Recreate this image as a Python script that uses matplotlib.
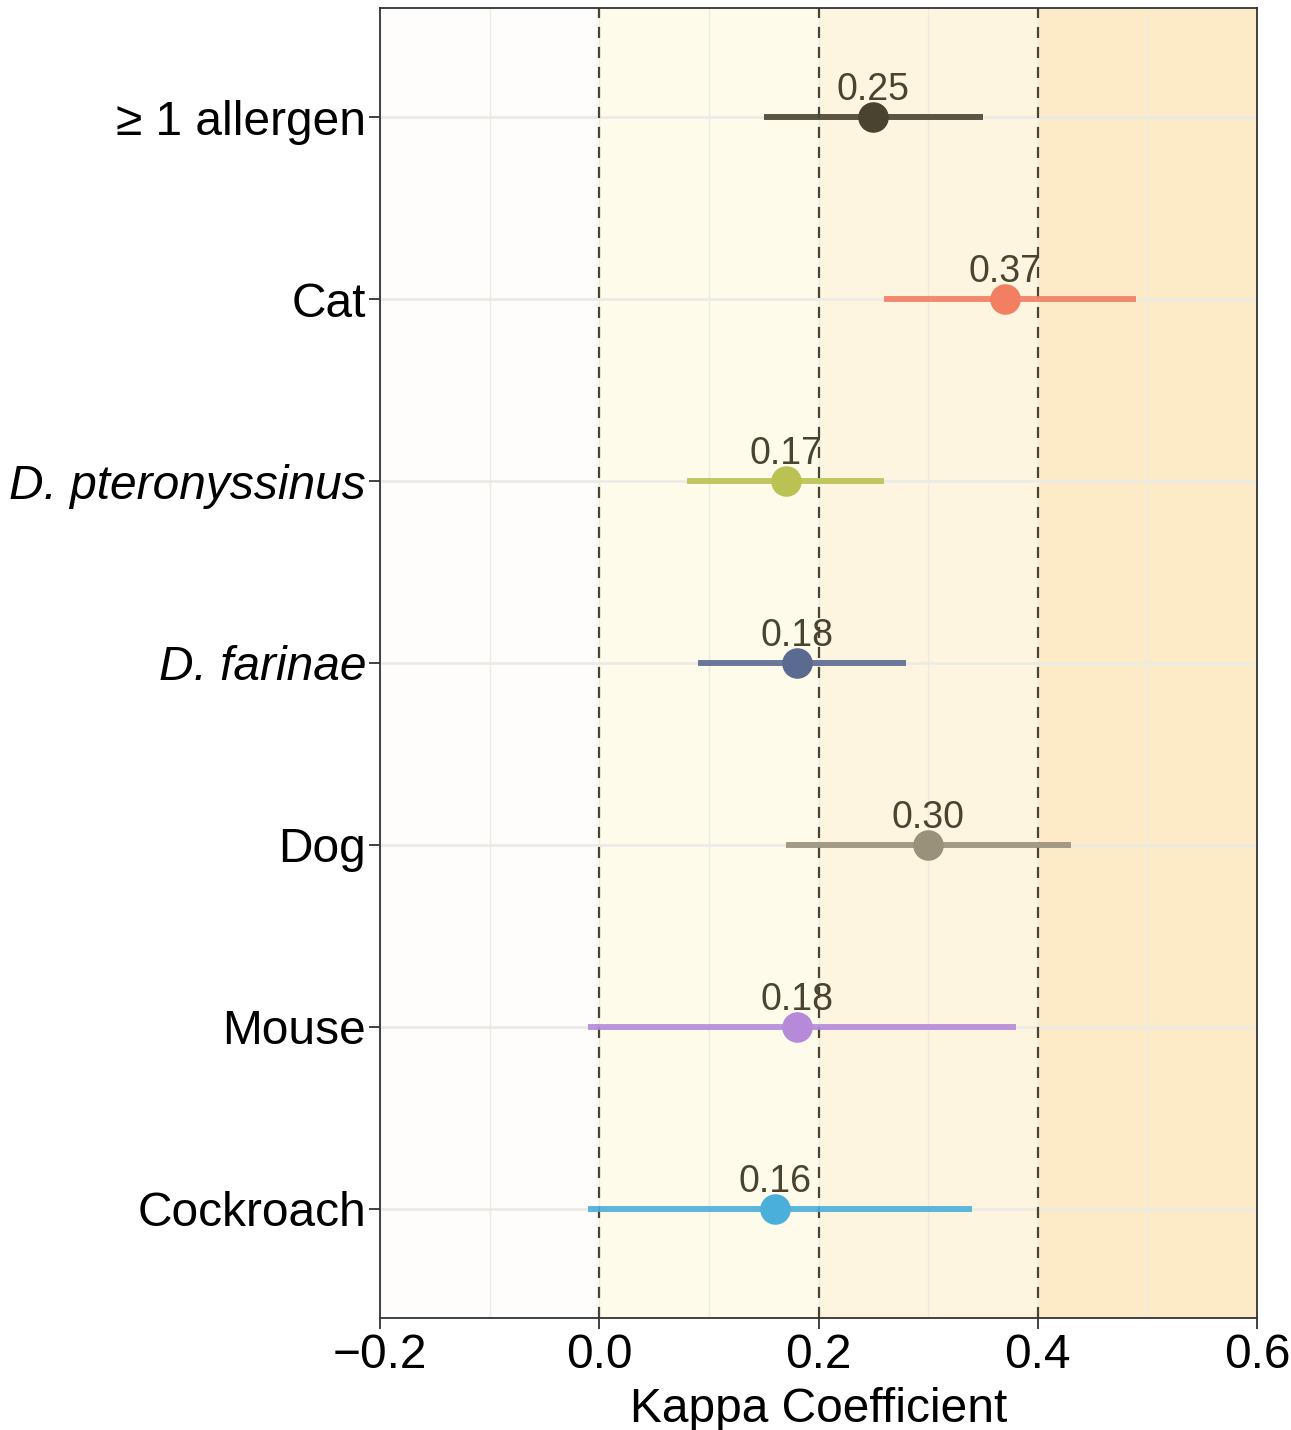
import matplotlib
matplotlib.use("Agg")
import matplotlib.pyplot as plt
import numpy as np

plt.rcParams["font.family"] = ["Liberation Sans", "DejaVu Sans"]

# data, top to bottom
labels = ["\u2265 1 allergen", "Cat", "D. pteronyssinus", "D. farinae", "Dog", "Mouse", "Cockroach"]
italic = [False, False, True, True, False, False, False]
kappa = [0.25, 0.37, 0.17, 0.18, 0.30, 0.18, 0.16]
ci_low = [0.15, 0.26, 0.08, 0.09, 0.17, -0.01, -0.01]
ci_high = [0.35, 0.49, 0.26, 0.28, 0.43, 0.38, 0.34]
colors = ["#4A4330", "#F27F62", "#BBC254", "#5B6A91", "#9A917A", "#B68AD9", "#4BAFDB"]

band_edges = [-0.2, 0.0, 0.2, 0.4, 0.6]
band_colors = ["#FEFDFB", "#FFFBEA", "#FEF5E0", "#FDEBC8"]
ref_lines = [0.0, 0.2, 0.4]

fig = plt.figure(figsize=(12.91, 14.30), dpi=100)
ax = fig.add_axes([380 / 1291, 1 - 1318 / 1430, 877 / 1291, 1310 / 1430])

n = len(labels)
y = np.arange(n)[::-1] + 1

for i in range(len(band_colors)):
    ax.axvspan(band_edges[i], band_edges[i + 1], color=band_colors[i], zorder=0, lw=0)

for xv in np.arange(-0.2, 0.61, 0.1):
    ax.axvline(xv, color="#EBEBE4", lw=1.0, zorder=1)
for yv in y:
    ax.axhline(yv, color="#EBEBE6", lw=2.0, zorder=1)

for xv in ref_lines:
    ax.axvline(xv, color="#4A4330", lw=1.6, ls=(0, (5, 4)), zorder=2)

for i in range(n):
    ax.plot([ci_low[i], ci_high[i]], [y[i], y[i]], color=colors[i], lw=4.3,
            solid_capstyle="butt", alpha=0.9, zorder=3)
    ax.plot(kappa[i], y[i], "o", color=colors[i], ms=22, mec="none", zorder=4)
    ax.text(kappa[i], y[i] + 0.095, f"{kappa[i]:.2f}", ha="center", va="baseline",
            fontsize=27, color="#4A4330", zorder=5)

ax.set_xlim(-0.2, 0.6)
ax.set_ylim(0.4, n + 0.6)
ax.set_xticks([-0.2, 0.0, 0.2, 0.4, 0.6])
ax.set_xticklabels(["\u22120.2", "0.0", "0.2", "0.4", "0.6"])
ax.set_yticks(y)
ax.set_yticklabels(labels)
for tl, it in zip(ax.get_yticklabels(), italic):
    if it:
        tl.set_fontstyle("italic")

ax.tick_params(axis="both", labelsize=34.5, length=8, width=1.3, color="#333333",
               labelcolor="black")
ax.tick_params(axis="y", pad=2)
ax.tick_params(axis="x", pad=3)
ax.set_xlabel("Kappa Coefficient", fontsize=34.5, labelpad=6)
for sp in ax.spines.values():
    sp.set_color("#333333")
    sp.set_linewidth(1.3)

fig.savefig("out.png", dpi=100)
